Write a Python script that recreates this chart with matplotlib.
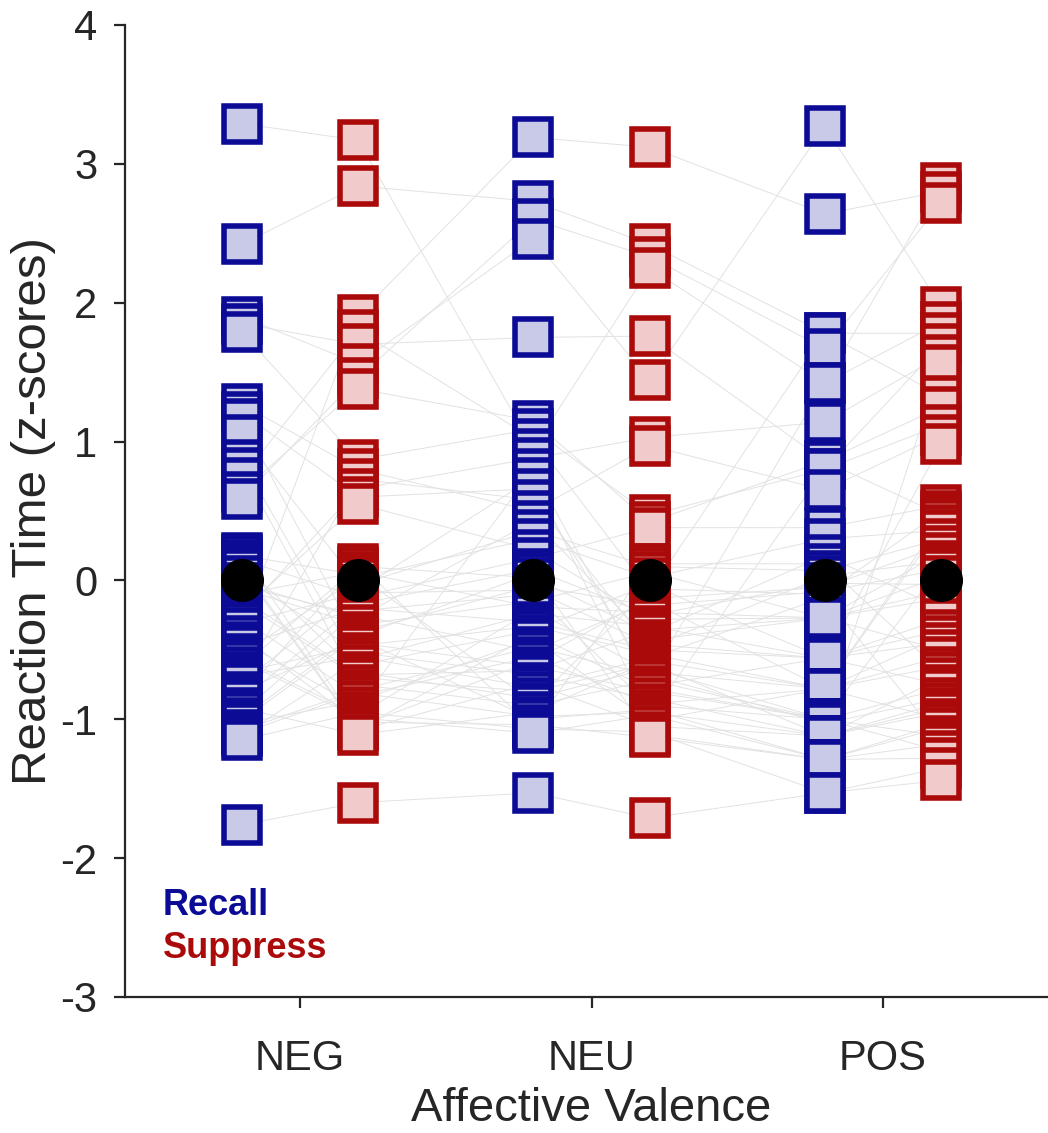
import matplotlib
matplotlib.use("Agg")
import matplotlib.pyplot as plt
import numpy as np

plt.rcParams['font.family'] = ['Liberation Sans', 'DejaVu Sans']
plt.rcParams['axes.unicode_minus'] = False

########## DATA ##########
categories = ['NEG', 'NEU', 'POS']
conditions = ['Recall', 'Suppress']

# z-scored reaction times, one entry per subject (same subject order in every list)
neg_recall = [3.29, -0.47, 1.90, 0.12, -1.03, 0.64, -0.22, 2.42, -0.80, 0.20, -1.15, 1.27,
              -0.06, -0.62, 0.81, -0.34, -1.76, 1.05, 0.03, -0.92, -0.25, 1.85, -0.58, -0.10,
              0.87, -1.08, 0.15, -0.71, 1.16, -0.40, -0.99, 0.59, -0.16, 1.79, -0.86, 0.08,
              -0.53, -1.12, 0.74, -0.28, -0.02, -0.66, 1.21, -0.95, -0.44, -0.74,
              -0.56, 0.18, -1.01, -0.13, -0.83, 0.10, -0.31, -1.10, -0.04, -0.69]
neg_suppress = [3.17, -0.20, 1.56, -0.66, -0.87, 1.38, 0.55, 2.84, -0.42, -1.05, -0.95, 0.80,
                -0.32, 0.10, -0.75, 1.91, -1.60, -0.03, -0.52, -1.11, 0.66, 1.70, -0.99, 0.06,
                -0.61, -0.79, -0.12, 0.73, -0.45, -1.02, -0.37, 1.46, -0.70, 0.87, -0.17, -1.08,
                0.02, -0.57, 1.80, -0.83, -0.27, -0.47, 0.60, -0.22, -0.91, -0.07,
                -0.97, 0.04, -0.40, -0.68, 0.12, -1.07, -0.09, -0.81, -0.25, -0.55]
neu_recall = [0.95, -0.30, 2.46, -0.85, -0.42, 1.15, 0.22, 2.73, -1.00, -0.58, -1.07, 0.50,
              -0.15, 0.02, -0.90, 3.19, -1.53, 0.36, -0.68, -0.95, 0.88, 1.75, -1.10, -0.19,
              -0.36, -0.48, 0.16, 0.58, -0.62, -1.04, -0.04, 2.60, -0.80, 1.09, 0.08, -0.74,
              0.30, -0.24, 1.02, -0.55, 0.43, -0.33, 0.66, -0.10, 0.80, 0.74,
              -0.21, -0.88, 0.05, -0.65, -1.06, -0.39, -0.07, -0.98, -0.51, -0.77]
neu_suppress = [2.25, -0.50, 1.44, -0.63, -1.01, 0.42, -0.28, 2.42, -0.93, -0.13, -1.09, 0.97,
                0.06, -0.38, -0.72, 3.12, -1.71, 0.10, -0.85, -0.58, 1.03, 1.76, -0.97, -0.23,
                -0.03, -0.68, 0.38, -0.48, -0.80, -1.13, -0.18, 2.33, -0.60, 0.47, -0.25, -1.05,
                0.02, -0.33, -0.08, -0.89, -0.43, -0.53, -0.70, -0.90, -0.76, -0.98,
                -0.66, -0.06, -1.11, -0.36, 0.12, -0.78, -0.46, -0.95, -0.15, -0.56]
pos_recall = [1.42, -0.56, 3.27, -1.00, -0.78, 0.86, -0.27, 1.78, -1.29, -0.05, -1.53, 0.65,
              -0.27, 0.18, -1.00, 2.64, -1.53, 0.07, -1.12, -0.78, 1.14, 0.86, -1.29, -0.27,
              -0.56, -1.03, 0.38, 0.03, -1.00, -1.29, -0.08, 1.67, -1.12, 0.80, -0.02, -1.12,
              0.30, -0.56, 1.78, -0.78, -0.27, -0.78, 1.42, -1.00, -0.56, 0.80,
              -0.78, -0.10, -1.29, -0.27, 0.12, -1.00, -0.56, -1.12, -0.78, -0.12]
pos_suppress = [2.86, -0.36, 1.97, -1.23, -0.62, 0.47, -0.08, 1.33, -1.06, 0.25, -1.44, 1.05,
                -0.50, -0.20, -0.78, 2.80, -1.35, 0.30, -0.92, -1.00, 1.62, 1.25, -1.28, 0.03,
                -0.45, -0.85, 0.54, 0.14, -1.12, -1.18, 0.08, 2.72, -0.70, 1.12, -0.03, -0.95,
                0.36, -0.28, 1.78, -0.55, 0.20, 0.40, 1.86, 1.55, 0.98, 1.70,
                -0.40, 0.50, -1.03, -0.13, -0.66, 0.11, -0.75, -0.88, 0.44, -1.15]

# group means (z-scores -> 0)
group_means = [0, 0, 0, 0, 0, 0]
##########################

columns = [neg_recall, neg_suppress, neu_recall, neu_suppress, pos_recall, pos_suppress]
offset = 0.2
xpos = []
for i in range(len(categories)):
    xpos += [i + 1 - offset, i + 1 + offset]

edge_cols = {'Recall': '#0b0b96', 'Suppress': '#ab0a0a'}
face_cols = {'Recall': '#c9c9e8', 'Suppress': '#f1cbcb'}

fig = plt.figure(figsize=(10.48, 11.33), dpi=100)
ax = fig.add_axes([125 / 1048, 136 / 1133, 933 / 1048, 972 / 1133])

data = np.array(columns)
# subject lines
for s in range(data.shape[1]):
    ax.plot(xpos, data[:, s], '-', color='#e2e2e2', linewidth=0.7, zorder=1)

# squares per condition, top ones first so lower boxes sit on top
for c, vals in enumerate(columns):
    cond = conditions[c % 2]
    for v in sorted(vals, reverse=True):
        ax.plot(xpos[c], v, 's', markersize=26, markeredgewidth=4.0,
                markeredgecolor=edge_cols[cond], markerfacecolor=face_cols[cond], zorder=2)

# means
ax.plot(xpos, group_means, 'o', color='black', markersize=30, linestyle='none', zorder=3)

ax.set_xlim(0.4, 3.6)
ax.set_ylim(-3, 4)
ax.set_xticks([1, 2, 3])
ax.set_xticklabels(categories)
ax.set_yticks(np.arange(-3, 5, 1))

for sp in ['top', 'right']:
    ax.spines[sp].set_visible(False)
for sp in ['left', 'bottom']:
    ax.spines[sp].set_linewidth(1.6)
    ax.spines[sp].set_color('#262626')

ax.tick_params(axis='both', direction='out', length=8, width=1.6, colors='#262626',
               labelsize=30)
ax.tick_params(axis='y', pad=12)
ax.tick_params(axis='x', pad=22)

ax.set_xlabel('Affective Valence', fontsize=34, color='#262626', labelpad=6)
ax.set_ylabel('Reaction Time (z-scores)', fontsize=35.5, color='#262626', labelpad=3)

ax.text(0.53, -2.34, 'Recall', color=edge_cols['Recall'], fontsize=26, fontweight='bold',
        va='center', ha='left')
ax.text(0.53, -2.65, 'Suppress', color=edge_cols['Suppress'], fontsize=26, fontweight='bold',
        va='center', ha='left')

fig.savefig('out.png', dpi=100)
